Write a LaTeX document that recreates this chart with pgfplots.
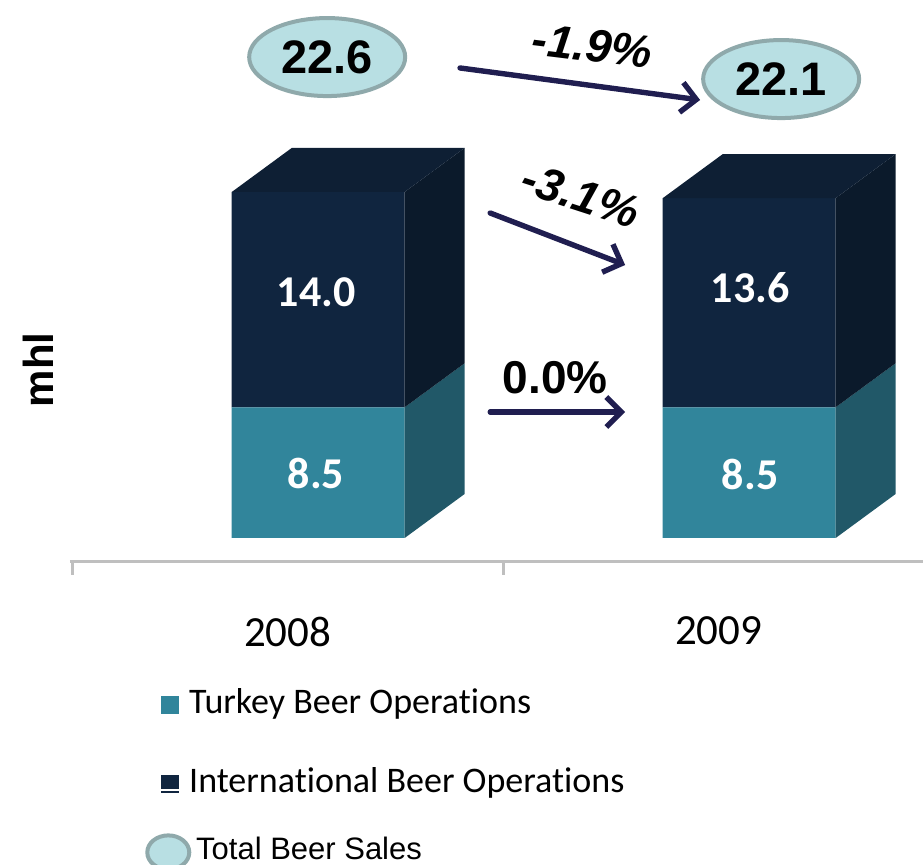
\documentclass[border=0pt]{standalone}
\usepackage{pgfplots}
\pgfplotsset{compat=1.18}
\usepackage{fontspec}
\setmainfont{Carlito}[Ligatures=NoCommon]
\newfontfamily\arial{Liberation Sans}
\usetikzlibrary{shapes.geometric, arrows.meta}

\definecolor{turk}{HTML}{31859B}
\definecolor{turkside}{HTML}{215868}
\definecolor{intl}{HTML}{10253F}
\definecolor{intlside}{HTML}{0B1A2B}
\definecolor{intltop}{HTML}{0E1F34}
\definecolor{ellfill}{HTML}{B8DFE3}
\definecolor{elldraw}{HTML}{8FA9AB}
\definecolor{arrowc}{HTML}{201E50}
\definecolor{axisgray}{HTML}{BFBFBF}

\pgfplotsset{commonax/.style={
  x=215.5pt, y=7.69pt, xmin=-0.505, xmax=1.474, ymin=-1.56, ymax=34.98,
  clip=false, at={(0,0)}, anchor=south west}}

\begin{document}
\begin{tikzpicture}
% ---------------- main axis: bars, x axis, legend ----------------
\begin{axis}[commonax,
  axis x line*=bottom, axis y line*=left,
  y axis line style={draw=none},
  x axis line style={axisgray, line width=1.5pt, -},
  ytick=\empty,
  xtick={0,1}, xticklabels={2008,2009},
  major tick length=0pt,
  minor xtick={-0.5,0.5}, minor tick length=6.5pt, xtick align=outside,
  minor x tick style={axisgray, line width=1.5pt},
  xticklabel style={font=\fontsize{21.5}{25}\selectfont, yshift=-24pt},
  ylabel={\arial\bfseries mhl},
  ylabel style={at={(axis description cs:-0.0375,0.342)}, anchor=center, font=\fontsize{21}{25}\selectfont},
  ybar stacked, bar width=86.5pt, bar shift=15.25pt,
  legend cell align=left,
  legend style={at={(axis description cs:0.1055,-0.226)}, anchor=north west,
    draw=none, fill=none, inner sep=0pt, row sep=23.5pt,
    font=\fontsize{18}{21}\selectfont,
    nodes={inner sep=0pt, text height=12pt, text depth=4pt}},
]
\addplot[fill=turk, draw=none,
  legend image code/.code={\fill[turk] (0pt,-4.5pt) rectangle (9pt,4.5pt);}]
  coordinates {(0,8.5) (1,8.5)};
\addlegendentry{\hspace*{5pt}Turkey Beer Operations}
\addplot[fill=intl, draw=none,
  legend image code/.code={\fill[intl] (0pt,-2.5pt) rectangle (9pt,4.5pt);
    \fill[intl] (0pt,-4.5pt) rectangle (9pt,-3.5pt);}]
  coordinates {(0,14.0) (1,13.6)};
\addlegendentry{\hspace*{5pt}International Beer Operations}
\addlegendimage{legend image code/.code={
    \path (0pt,-4.5pt) rectangle (9pt,4.5pt);
    \draw[overlay, elldraw, fill=ellfill, line width=2pt] (3.75pt,5.5pt) ellipse (10.5pt and 8.5pt);}}
\addlegendentry{\hspace*{8.5pt}\raisebox{6pt}{\arial\fontsize{15.5}{18}\selectfont Total Beer Sales}}
\end{axis}

% ---------------- decoration axis: 3D faces, totals, arrows ----------------
\begin{axis}[commonax, hide axis]
% 2008 side and top faces
\addplot[fill=turkside, draw=none, mark=none, forget plot]
  coordinates {(0.2715,0) (0.4105,2.86) (0.4105,11.36) (0.2715,8.5)};
\addplot[fill=intlside, draw=none, mark=none, forget plot]
  coordinates {(0.2715,8.5) (0.4105,11.36) (0.4105,25.36) (0.2715,22.5)};
\addplot[fill=intltop, draw=none, mark=none, forget plot]
  coordinates {(-0.1295,22.5) (0.0095,25.36) (0.4105,25.36) (0.2715,22.5)};
% 2009 side and top faces
\addplot[fill=turkside, draw=none, mark=none, forget plot]
  coordinates {(1.2715,0) (1.4105,2.86) (1.4105,11.36) (1.2715,8.5)};
\addplot[fill=intlside, draw=none, mark=none, forget plot]
  coordinates {(1.2715,8.5) (1.4105,11.36) (1.4105,24.96) (1.2715,22.1)};
\addplot[fill=intltop, draw=none, mark=none, forget plot]
  coordinates {(0.8705,22.1) (1.0095,24.96) (1.4105,24.96) (1.2715,22.1)};

% bar value labels
\node[text=white, font=\bfseries\fontsize{22}{26}\selectfont] at (axis cs:0.066,16.0) {14.0};
\node[text=white, font=\bfseries\fontsize{22}{26}\selectfont] at (axis cs:0.066,4.2) {8.5};
\node[text=white, font=\bfseries\fontsize{22}{26}\selectfont] at (axis cs:1.073,16.3) {13.6};
\node[text=white, font=\bfseries\fontsize{22}{26}\selectfont] at (axis cs:1.073,4.1) {8.5};

% total beer sales ellipses
\addplot[only marks, mark=none, forget plot, nodes near coords, point meta=explicit symbolic,
  every node near coord/.style={ellipse, draw=elldraw, fill=ellfill, line width=2pt,
    minimum width=78pt, minimum height=39pt, inner sep=0pt, anchor=center, text=black,
    font=\arial\bfseries\fontsize{23.5}{27}\selectfont}]
  coordinates {(0.0917,31.27) [22.6] (1.145,29.84) [22.1]};

% change arrows
\draw[arrowc, line width=2.7pt, line cap=round, -{Straight Barb[length=7.5pt, width=15pt]}]
  (axis cs:0.400,30.56) -- (axis cs:0.957,28.48);
\draw[arrowc, line width=2.7pt, line cap=round, -{Straight Barb[length=7.5pt, width=15pt]}]
  (axis cs:0.470,21.13) -- (axis cs:0.783,17.75);
\draw[arrowc, line width=2.7pt, line cap=round, -{Straight Barb[length=7.5pt, width=15pt]}]
  (axis cs:0.470,8.19) -- (axis cs:0.783,8.19);
\node[rotate=-7, font=\arial\bfseries\itshape\fontsize{23}{27}\selectfont] at (axis cs:0.707,32.0) {-1.9\%};
\node[rotate=-18, font=\arial\bfseries\itshape\fontsize{23}{27}\selectfont] at (axis cs:0.68,22.3) {-3.1\%};
\node[font=\arial\bfseries\fontsize{23}{27}\selectfont] at (axis cs:0.621,10.40) {0.0\%};
\end{axis}

\pgfresetboundingbox
\useasboundingbox (-35pt,-151.5pt) rectangle (426.5pt,281pt);
\end{tikzpicture}
\end{document}
